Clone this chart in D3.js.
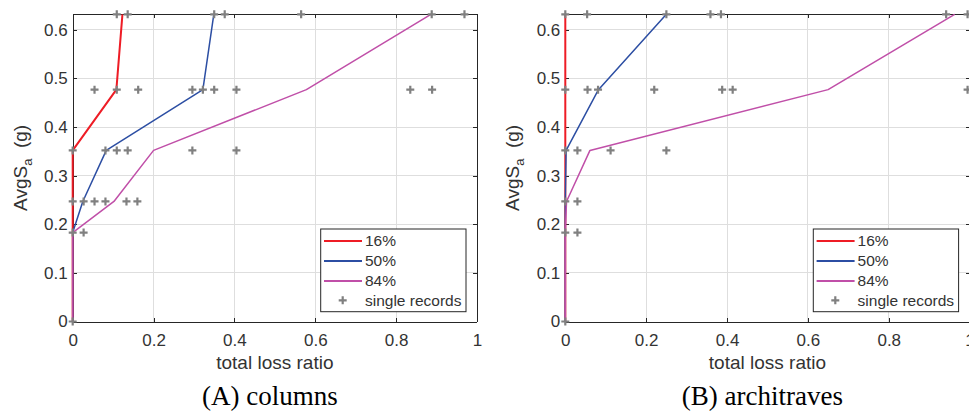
<!DOCTYPE html>
<meta charset="utf-8">
<style>

body {
  margin: 0;
  background: #fff;
  font-family: "Liberation Sans", Arial, Helvetica, sans-serif;
}

.axis text {
  font: 17px "Liberation Sans", Arial, sans-serif;
  fill: #333;
}

.axis path,
.axis line {
  fill: none;
  stroke: #262626;
  shape-rendering: crispEdges;
}

.grid line {
  stroke: #dedede;
  stroke-width: 1;
  shape-rendering: crispEdges;
}

.curve {
  fill: none;
  stroke-linejoin: round;
}

.rec {
  stroke: #808080;
  stroke-width: 2.2;
}

</style>
<body>
<script src="https://cdn.jsdelivr.net/npm/d3@7"></script>
<script>

// intensity levels (AvgSa, g)
var imLevels = [0, 0.183, 0.247, 0.352, 0.477, 0.632];

// (A) columns - fractile curves, loss ratio at each level
var colsP16 = [0, 0, 0, 0, 0.108, 0.123];
var colsP50 = [0, 0, 0.025, 0.083, 0.322, 0.349];
var colsP84 = [0, 0, 0.102, 0.200, 0.578, 0.886];

// (A) columns - single records, loss ratios per level
var colsRec = [
  [0],
  [0, 0.027],
  [0, 0.027, 0.054, 0.081, 0.133, 0.160],
  [0, 0.081, 0.109, 0.136, 0.296, 0.405],
  [0.054, 0.109, 0.162, 0.296, 0.322, 0.350, 0.405, 0.835, 0.889],
  [0.109, 0.136, 0.350, 0.376, 0.565, 0.888, 0.969]
];

// (B) architraves
var archP16 = [0, 0, 0, 0, 0, 0];
var archP50 = [0, 0, 0, 0.002, 0.082, 0.250];
var archP84 = [0, 0, 0.003, 0.061, 0.650, 0.963];

var archRec = [
  [0],
  [0, 0.030],
  [0, 0.030],
  [0, 0.030, 0.112, 0.250],
  [0, 0.055, 0.081, 0.220, 0.388, 0.414, 0.995],
  [0, 0.054, 0.250, 0.359, 0.385, 0.942, 0.995]
];

var xTicks = [0, 0.2, 0.4, 0.6, 0.8, 1];
var yTicks = [0, 0.1, 0.2, 0.3, 0.4, 0.5, 0.6];
var fractiles = ["16%", "50%", "84%"];
var colors = ["#ee1c25", "#2c4ea3", "#c04fa8"];
var widths = [2, 1.5, 1.5];

var width = 404.3,
    height = 307.2,
    marginTop = 14.3;

var svg = d3.select("body").append("svg")
    .attr("width", 969)
    .attr("height", 412)
    .style("display", "block");

var x = d3.scaleLinear().domain([0, 1]).range([0, width]);
var y = d3.scaleLinear().domain([0, 0.632]).range([height, 0]);

function plus(sel) {
  sel.append("path")
    .attr("class", "rec")
    .attr("d", "M-4,0H4M0,-4V4");
}

function drawPanel(left, curves, recs, title) {
  var g = svg.append("g")
      .attr("transform", "translate(" + left + "," + marginTop + ")");

  // grid
  var grid = g.append("g").attr("class", "grid");
  grid.selectAll(".gx")
      .data(xTicks.slice(1, -1))
    .enter().append("line")
      .attr("x1", function(d) { return x(d); })
      .attr("x2", function(d) { return x(d); })
      .attr("y1", 0)
      .attr("y2", height);
  grid.selectAll(".gy")
      .data(yTicks.slice(1))
    .enter().append("line")
      .attr("x1", 0)
      .attr("x2", width)
      .attr("y1", function(d) { return y(d); })
      .attr("y2", function(d) { return y(d); });

  // axes (ticks inward, box on)
  g.append("g")
      .attr("class", "axis")
      .attr("transform", "translate(0," + height + ")")
      .call(d3.axisBottom(x).tickValues(xTicks).tickSizeInner(-4).tickSizeOuter(0).tickPadding(12)
        .tickFormat(d3.format("")));
  g.append("g")
      .attr("class", "axis")
      .call(d3.axisLeft(y).tickValues(yTicks).tickSizeInner(-4).tickSizeOuter(0).tickPadding(5)
        .tickFormat(d3.format("")));
  g.append("g")
      .attr("class", "axis")
      .call(d3.axisTop(x).tickValues(xTicks).tickSizeInner(-4).tickSizeOuter(0).tickFormat(""));
  g.append("g")
      .attr("class", "axis")
      .attr("transform", "translate(" + width + ",0)")
      .call(d3.axisRight(y).tickValues(yTicks).tickSizeInner(-4).tickSizeOuter(0).tickFormat(""));

  // fractile curves
  var line = d3.line()
      .x(function(d) { return x(d[0]); })
      .y(function(d) { return y(d[1]); });

  curves.forEach(function(c, i) {
    g.append("path")
        .attr("class", "curve")
        .attr("d", line(c.map(function(v, k) { return [v, imLevels[k]]; })))
        .attr("stroke", colors[i])
        .attr("stroke-width", widths[i]);
  });

  // single records
  var pts = [];
  recs.forEach(function(row, k) {
    row.forEach(function(v) { pts.push([v, imLevels[k]]); });
  });
  g.selectAll(".pt")
      .data(pts)
    .enter().append("g")
      .attr("transform", function(d) { return "translate(" + x(d[0]) + "," + y(d[1]) + ")"; })
      .call(plus);

  // legend
  var lg = g.append("g").attr("transform", "translate(248,214.7)");
  lg.append("rect")
      .attr("width", 145.3)
      .attr("height", 82.7)
      .attr("fill", "#fff")
      .attr("stroke", "#262626")
      .attr("stroke-width", 1);
  var rows = [12, 32, 52, 71.3];
  fractiles.forEach(function(f, i) {
    lg.append("line")
        .attr("x1", 3.3).attr("x2", 41.3)
        .attr("y1", rows[i]).attr("y2", rows[i])
        .attr("stroke", colors[i])
        .attr("stroke-width", 2);
    lg.append("text")
        .attr("x", 44.3).attr("y", rows[i])
        .attr("dy", "0.35em")
        .style("font-size", "15.5px")
        .attr("fill", "#333")
        .text(f);
  });
  lg.append("g")
      .attr("transform", "translate(22," + rows[3] + ")")
      .call(plus);
  lg.append("text")
      .attr("x", 44.3).attr("y", rows[3])
      .attr("dy", "0.35em")
      .style("font-size", "15.5px")
      .attr("fill", "#333")
      .text("single records");

  // labels
  g.append("text")
      .attr("x", width / 2)
      .attr("y", 354.7)
      .attr("text-anchor", "middle")
      .style("font-size", "19px")
      .attr("fill", "#333")
      .text("total loss ratio");

  var yl = g.append("text")
      .attr("transform", "translate(-46," + (height / 2) + ") rotate(-90)")
      .attr("text-anchor", "middle")
      .style("font-size", "19px")
      .attr("fill", "#333");
  yl.append("tspan").text("AvgS");
  yl.append("tspan").attr("dy", 5).style("font-size", "13px").text("a");
  yl.append("tspan").attr("dy", -5).text("\u00a0 (g)");

  g.append("text")
      .attr("x", width / 2 - 5)
      .attr("y", 390.7)
      .attr("text-anchor", "middle")
      .style("font-family", "'Liberation Serif', 'Times New Roman', serif")
      .style("font-size", "27px")
      .attr("fill", "#000")
      .text(title);
}

drawPanel(72.7, [colsP16, colsP50, colsP84], colsRec, "(A) columns");
drawPanel(565.3, [archP16, archP50, archP84], archRec, "(B) architraves");

</script>
